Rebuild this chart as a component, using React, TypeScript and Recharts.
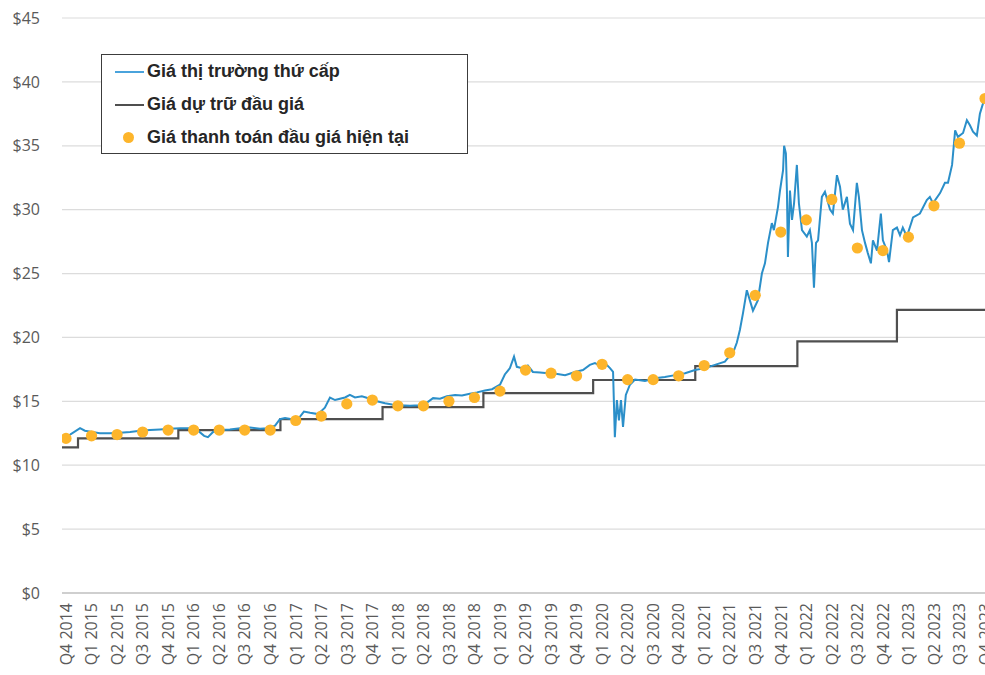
import React from 'react';
import {
  ComposedChart,
  Line,
  Scatter,
  XAxis,
  YAxis,
  CartesianGrid,
  Legend,
} from 'recharts';

// Quarter labels along the time axis (index 0 = Q4 2014)
const quarterLabels = [
  'Q4 2014',
  'Q1 2015', 'Q2 2015', 'Q3 2015', 'Q4 2015',
  'Q1 2016', 'Q2 2016', 'Q3 2016', 'Q4 2016',
  'Q1 2017', 'Q2 2017', 'Q3 2017', 'Q4 2017',
  'Q1 2018', 'Q2 2018', 'Q3 2018', 'Q4 2018',
  'Q1 2019', 'Q2 2019', 'Q3 2019', 'Q4 2019',
  'Q1 2020', 'Q2 2020', 'Q3 2020', 'Q4 2020',
  'Q1 2021', 'Q2 2021', 'Q3 2021', 'Q4 2021',
  'Q1 2022', 'Q2 2022', 'Q3 2022', 'Q4 2022',
  'Q1 2023', 'Q2 2023', 'Q3 2023', 'Q4 2023',
];

// Quarterly auction settlement price ($), one per quarter label
const settlementPrice = [
  12.1,
  12.3, 12.4, 12.6, 12.75,
  12.75, 12.75, 12.75, 12.75,
  13.5, 13.85, 14.8, 15.1,
  14.65, 14.65, 15.0, 15.3,
  15.8, 17.45, 17.2, 17.0,
  17.9, 16.7, 16.7, 17.0,
  17.8, 18.8, 23.3, 28.25,
  29.2, 30.8, 27.0, 26.8,
  27.85, 30.3, 35.2, 38.7,
];

// Auction reserve price: time (in quarters) where each level begins, and the level ($)
const reserveStart = [-0.16, 0.47, 4.4, 8.4, 12.4, 16.35, 20.65, 24.65, 28.65, 32.55, 36];
const reservePrice = [11.4, 12.1, 12.75, 13.6, 14.55, 15.65, 16.67, 17.75, 19.7, 22.15, 22.15];

// Secondary market price: observation time (in quarters) and price ($)
const marketTime = [
  -0.16, 0.16, 0.55, 0.74, 1.02, 1.33, 1.72, 2.12, 2.51, 2.9, 3.29, 3.68, 4.07, 4.47, 4.86,
  5.17, 5.41, 5.56, 5.76, 6.03, 6.42, 6.82, 7.21, 7.6, 7.91, 8.19, 8.38, 8.58, 8.85, 9.13,
  9.32, 9.56, 9.87, 10.14, 10.34, 10.54, 10.73, 10.93, 11.12, 11.32, 11.59, 11.91, 12.18, 12.5, 12.77,
  13.08, 13.47, 13.87, 14.14, 14.38, 14.65, 14.92, 15.24, 15.51, 15.82, 16.1, 16.41, 16.69, 17.0, 17.19,
  17.39, 17.55, 17.66, 17.86, 18.09, 18.29, 18.57, 18.88, 19.19, 19.55, 19.94, 20.25, 20.52, 20.72, 20.92,
  21.11, 21.31, 21.43, 21.5, 21.58, 21.66, 21.74, 21.82, 21.93, 22.09, 22.29, 22.68, 23.07, 23.46, 23.86,
  24.25, 24.64, 25.03, 25.42, 25.81, 26.01, 26.13, 26.28, 26.4, 26.52, 26.67, 26.79, 26.91, 27.1, 27.26,
  27.38, 27.5, 27.65, 27.73, 27.89, 27.97, 28.09, 28.13, 28.2, 28.24, 28.28, 28.36, 28.44, 28.52, 28.63,
  28.71, 28.83, 29.02, 29.14, 29.22, 29.3, 29.38, 29.46, 29.61, 29.73, 29.93, 30.04, 30.2, 30.32, 30.43,
  30.59, 30.71, 30.83, 30.98, 31.06, 31.18, 31.3, 31.41, 31.53, 31.61, 31.77, 31.92, 32.0, 32.16, 32.24,
  32.39, 32.55, 32.67, 32.78, 32.94, 33.18, 33.45, 33.72, 33.84, 33.96, 34.24, 34.43, 34.55, 34.71, 34.83,
  34.94, 35.14, 35.29, 35.41, 35.53, 35.68, 35.8, 35.92, 36.0,
];
const marketPrice = [
  12.1, 12.4, 12.9, 12.7, 12.6, 12.5, 12.5, 12.55, 12.6, 12.7, 12.75, 12.8, 12.85, 12.9, 12.9,
  12.7, 12.3, 12.2, 12.6, 12.75, 12.8, 12.9, 12.95, 12.85, 12.9, 13.1, 13.6, 13.7, 13.6, 13.7,
  14.2, 14.1, 14.0, 14.5, 15.3, 15.1, 15.2, 15.3, 15.5, 15.3, 15.4, 15.2, 15.0, 14.85, 14.75,
  14.7, 14.65, 14.7, 14.9, 15.25, 15.2, 15.4, 15.5, 15.45, 15.6, 15.7, 15.85, 15.95, 16.3, 17.1,
  17.6, 18.5, 17.7, 17.6, 17.8, 17.3, 17.25, 17.2, 17.15, 17.05, 17.3, 17.45, 17.85, 18.0, 17.75,
  18.0, 17.6, 17.3, 12.2, 15.1, 13.5, 15.1, 13.0, 15.5, 16.3, 16.7, 16.6, 16.8, 16.9, 17.05,
  17.2, 17.45, 17.6, 17.85, 18.1, 18.6, 18.8, 19.6, 20.6, 21.9, 23.7, 22.9, 22.1, 22.9, 25.0,
  25.8, 27.4, 28.95, 28.4, 30.2, 31.5, 33.1, 35.0, 34.4, 31.5, 26.3, 31.5, 29.2, 30.5, 33.5,
  30.5, 28.4, 27.9, 28.4, 27.4, 23.9, 27.4, 27.6, 31.0, 31.4, 30.0, 29.7, 32.7, 31.8, 30.0,
  31.0, 28.9, 28.4, 32.1, 31.0, 28.4, 27.4, 26.6, 25.8, 27.6, 26.8, 29.7, 27.6, 26.8, 25.9,
  28.4, 28.6, 28.0, 28.6, 27.9, 29.4, 29.7, 30.75, 31.0, 30.5, 31.3, 32.1, 32.1, 33.5, 36.2,
  35.7, 36.0, 37.0, 36.6, 36.1, 35.8, 37.5, 38.3, 38.8,
];

const yTicks = [0, 5, 10, 15, 20, 25, 30, 35, 40, 45];

const seriesNames = {
  market: 'Giá thị trường thứ cấp',
  reserve: 'Giá dự trữ đầu giá',
  settlement: 'Giá thanh toán đầu giá hiện tại',
};

const COLORS = {
  market: '#2b8fc9',
  marketLegend: '#4aa3dc',
  reserve: '#4f4f4f',
  settlement: '#fdb52b',
  grid: '#dcdcdc',
  axis: '#c4c4c4',
  tick: '#5a5a5a',
  legendText: '#262626',
};

const marketData = marketTime.map((t, i) => ({ t, price: marketPrice[i] }));
const reserveData = reserveStart.map((t, i) => ({ t, price: reservePrice[i] }));
const settlementData = settlementPrice.map((price, i) => ({ t: i, price }));
const xTicks = quarterLabels.map((_, i) => i);

const AXIS_FONT = '"Open Sans", "Liberation Sans", Arial, sans-serif';

function QuarterTick(props: any) {
  const { x, y, payload } = props;
  const label = quarterLabels[payload.value] ?? '';
  return (
    <g transform={`translate(${x},${y})`}>
      <text
        x={0}
        y={0}
        dy="0.36em"
        textAnchor="end"
        transform="rotate(-90)"
        fill={COLORS.tick}
        fontSize={16}
        fontFamily={AXIS_FONT}
      >
        {label}
      </text>
    </g>
  );
}

function SettlementDot(props: any) {
  const { cx, cy } = props;
  if (cx == null || cy == null) return null;
  return <circle cx={cx} cy={cy} r={5.6} fill={COLORS.settlement} />;
}

function LegendBox() {
  const rowStyle: React.CSSProperties = {
    position: 'relative',
    height: 33,
    display: 'flex',
    alignItems: 'center',
  };
  const textStyle: React.CSSProperties = {
    position: 'absolute',
    left: 45,
    fontFamily: '"Liberation Sans", Arial, sans-serif',
    fontWeight: 700,
    fontSize: 18,
    color: COLORS.legendText,
    whiteSpace: 'nowrap',
    lineHeight: '33px',
  };
  return (
    <div
      style={{
        boxSizing: 'border-box',
        width: 367,
        height: 100,
        border: '1.5px solid #3c3c3c',
        background: '#fff',
        paddingTop: 0,
      }}
    >
      <div style={rowStyle}>
        <div style={{ position: 'absolute', left: 13, width: 29, height: 2, background: COLORS.marketLegend }} />
        <span style={textStyle}>{seriesNames.market}</span>
      </div>
      <div style={rowStyle}>
        <div style={{ position: 'absolute', left: 13, width: 29, height: 2, background: COLORS.reserve }} />
        <span style={textStyle}>{seriesNames.reserve}</span>
      </div>
      <div style={rowStyle}>
        <div
          style={{
            position: 'absolute',
            left: 21,
            width: 11,
            height: 11,
            borderRadius: '50%',
            background: COLORS.settlement,
          }}
        />
        <span style={textStyle}>{seriesNames.settlement}</span>
      </div>
    </div>
  );
}

export default function App() {
  return (
    <div style={{ position: 'absolute', left: 0, top: 0, width: 985, height: 675, background: '#fff' }}>
      <ComposedChart
        width={985}
        height={675}
        margin={{ top: 18, right: 0, bottom: 0, left: 0 }}
      >
        <CartesianGrid vertical={false} stroke={COLORS.grid} strokeWidth={1.2} />
        <XAxis
          type="number"
          dataKey="t"
          domain={[-0.157, 36]}
          allowDataOverflow
          ticks={xTicks}
          interval={0}
          tick={<QuarterTick />}
          tickLine={false}
          tickMargin={4}
          axisLine={{ stroke: COLORS.axis, strokeWidth: 1.5 }}
          height={82}
        />
        <YAxis
          type="number"
          domain={[0, 45]}
          ticks={yTicks}
          interval={0}
          tickFormatter={(v: number) => `$${v}`}
          axisLine={false}
          tickLine={false}
          tickMargin={16}
          width={62}
          tick={{ fill: COLORS.tick, fontSize: 16, fontFamily: AXIS_FONT }}
        />
        <Legend
          layout="horizontal"
          verticalAlign="middle"
          align="center"
          content={() => <LegendBox />}
          wrapperStyle={{ position: 'absolute', left: 101, top: 54, width: 367, height: 100 }}
        />
        <Line
          data={reserveData}
          dataKey="price"
          type="stepAfter"
          stroke={COLORS.reserve}
          strokeWidth={2.2}
          dot={false}
          activeDot={false}
          isAnimationActive={false}
          name={seriesNames.reserve}
        />
        <Line
          data={marketData}
          dataKey="price"
          type="linear"
          stroke={COLORS.market}
          strokeWidth={2}
          dot={false}
          activeDot={false}
          isAnimationActive={false}
          name={seriesNames.market}
        />
        <Scatter
          data={settlementData}
          dataKey="price"
          fill={COLORS.settlement}
          shape={<SettlementDot />}
          isAnimationActive={false}
          name={seriesNames.settlement}
        />
      </ComposedChart>
    </div>
  );
}
